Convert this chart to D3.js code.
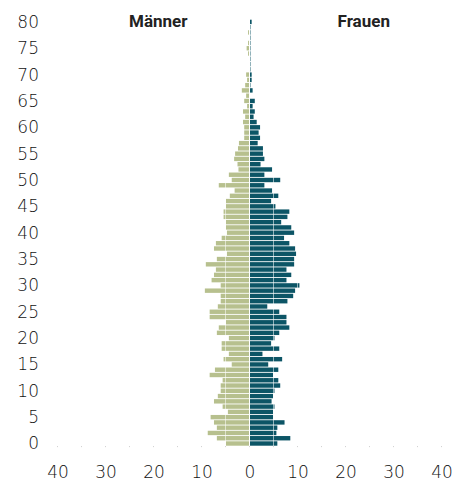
<!DOCTYPE html>
<html>
<head>
<meta charset="utf-8">
<script src="https://cdn.jsdelivr.net/npm/d3@7"></script>
<style>
    body { margin: 0; background: #fff; }
    svg { display: block; }
    .axis text { font-family: "DejaVu Sans", sans-serif; font-size: 17px; font-weight: 300; fill: #111; }
    .head { font-family: Roboto, sans-serif; font-size: 17px; font-weight: bold; fill: #222; }
</style>
</head>
<body>
<svg id="chart" width="467" height="481"></svg>
<script>
// age 0 .. 80
const ages = d3.range(0, 81);

const maenner = [
    4.9, 6.8, 8.7, 6.8, 7.4, 8.1, 4.5, 5.6, 7.4, 6.6,
    6.0, 6.0, 5.6, 8.3, 7.2, 3.7, 5.4, 4.3, 5.8, 5.8,
    4.3, 6.8, 6.4, 4.9, 8.3, 8.3, 6.6, 6.0, 6.0, 9.3,
    6.0, 7.9, 7.4, 7.0, 9.1, 6.8, 4.7, 7.4, 7.0, 5.8,
    4.7, 4.9, 4.9, 5.4, 5.4, 4.9, 4.9, 4.1, 3.1, 6.4,
    3.7, 4.3, 2.3, 2.5, 3.2, 3.0, 2.4, 2.2, 1.1, 1.1,
    1.1, 1.35, 0.9, 1.35, 0.5, 1.1, 0.7, 1.6, 0.9, 0.5,
    0.7, 0, 0, 0, 0.3, 0.6, 0.3, 0, 0.3, 0,
    0
];

const frauen = [
    5.8, 8.5, 5.6, 5.8, 7.3, 4.9, 4.9, 5.2, 4.6, 4.9,
    5.2, 6.4, 6.0, 4.9, 6.0, 3.9, 6.8, 2.7, 6.2, 4.5,
    5.2, 6.2, 8.3, 7.7, 7.7, 6.2, 3.7, 7.9, 9.1, 9.5,
    10.4, 7.7, 8.7, 7.7, 9.3, 9.3, 9.7, 9.5, 8.3, 7.2,
    9.3, 8.7, 6.6, 7.9, 8.3, 5.4, 4.5, 6.0, 4.7, 3.1,
    6.4, 3.1, 4.7, 2.3, 3.1, 2.8, 2.8, 1.7, 2.2, 1.9,
    2.2, 1.5, 0.85, 1.1, 0.65, 1.1, 0, 0.65, 0.2, 0.45,
    0.45, 0.2, 0.2, 0.2, 0.2, 0.2, 0.2, 0.2, 0.2, 0.2,
    0.45
];

const ageTicks = d3.range(0, 81, 5);
const valueTicks = d3.range(-40, 41, 10);
const gridTicks = d3.range(-40, 41, 5).filter(d => d !== 0);

const svg = d3.select('#chart');

const x = d3.scaleLinear().domain([-40, 40]).range([57.5, 441.5]);
const y = d3.scaleLinear().domain([0, 80]).range([443.5, 21.9]);
const barH = 4.4;

// bars
svg.append('g')
    .selectAll('rect')
    .data(ages)
    .join('rect')
    .attr('x', a => x(-maenner[a]))
    .attr('y', a => y(a) - barH / 2)
    .attr('width', a => Math.max(0, x(0) - 0.5 - x(-maenner[a])))
    .attr('height', barH)
    .attr('fill', '#b7c08e');

svg.append('g')
    .selectAll('rect')
    .data(ages)
    .join('rect')
    .attr('x', x(0) + 0.5)
    .attr('y', a => y(a) - barH / 2)
    .attr('width', a => Math.max(0, x(frauen[a]) - x(0) - 0.5))
    .attr('height', barH)
    .attr('fill', '#0c5566');

// grid lines drawn over the bars
svg.append('g')
    .selectAll('line')
    .data(gridTicks)
    .join('line')
    .attr('x1', d => x(d))
    .attr('x2', d => x(d))
    .attr('y1', y(80) - 3)
    .attr('y2', y(0) + 3)
    .attr('stroke', '#fff')
    .attr('stroke-opacity', 0.55)
    .attr('stroke-width', 1);

// little grey marks under the baseline
svg.append('g')
    .selectAll('rect')
    .data(d3.range(-40, 41, 5))
    .join('rect')
    .attr('x', d => x(d) - 0.5)
    .attr('y', y(0) + 2.6)
    .attr('width', 1)
    .attr('height', 1)
    .attr('fill', '#cfcfcf');

// y axis
svg.append('g')
    .attr('class', 'axis')
    .attr('transform', 'translate(39,0)')
    .call(d3.axisLeft(y).tickValues(ageTicks).tickSize(0).tickPadding(0))
    .call(g => g.select('.domain').remove());

// x axis
svg.append('g')
    .attr('class', 'axis')
    .attr('transform', 'translate(0,466)')
    .call(d3.axisBottom(x).tickValues(valueTicks).tickSize(0).tickPadding(0)
        .tickFormat(d => Math.abs(d)))
    .call(g => g.select('.domain').remove());

// headings
svg.append('text').attr('class', 'head')
    .attr('x', x(-19)).attr('y', 27)
    .attr('text-anchor', 'middle')
    .text('Männer');

svg.append('text').attr('class', 'head')
    .attr('x', x(23.8)).attr('y', 27)
    .attr('text-anchor', 'middle')
    .text('Frauen');
</script>
</body>
</html>
